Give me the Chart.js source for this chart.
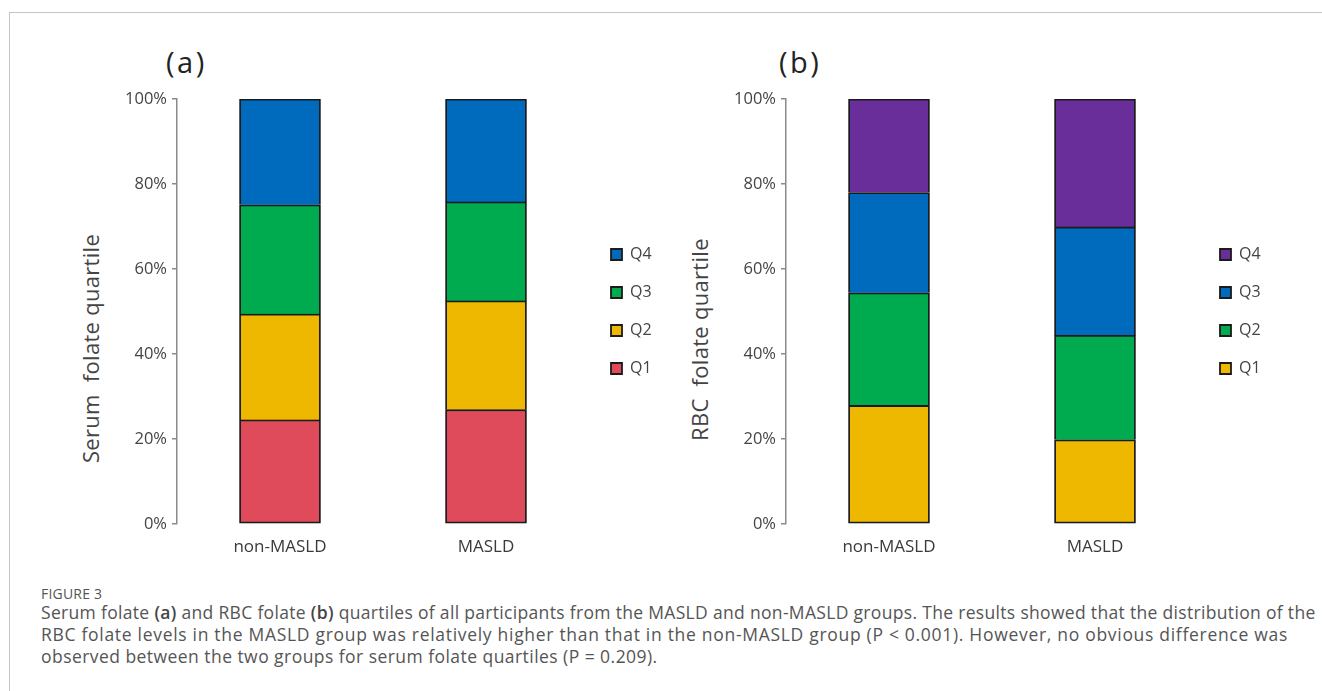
<!DOCTYPE html>
<html>
<head>
<meta charset="utf-8">
<script src="https://cdn.jsdelivr.net/npm/chart.js@4.4.1/dist/chart.umd.min.js"></script>
<style>
  html, body { margin: 0; padding: 0; background: #fff; }
  body { width: 1322px; height: 691px; position: relative; overflow: hidden; font-family: "Open Sans", "Noto Sans", sans-serif; }
  .frame { position: absolute; left: 9px; top: 12px; width: 1313px; height: 679px; border-top: 1px solid #c4c4c4; border-left: 1px solid #c4c4c4; box-sizing: border-box; }
  canvas { position: absolute; }
  #chartA { left: 100px; top: 80px; }
  #chartB { left: 709px; top: 80px; }
  .panel { position: absolute; font-size: 29px; color: #222; letter-spacing: 2.5px; line-height: 1; }
  .ytitle { position: absolute; font-size: 22px; color: #444; letter-spacing: 0.3px; white-space: pre; transform-origin: 0 0; transform: rotate(-90deg); line-height: 1; }
  .figno { position: absolute; left: 41px; top: 584px; font-size: 14px; color: #555; letter-spacing: 0.2px; }
  .caption { position: absolute; left: 41px; top: 601px; font-size: 17.5px; line-height: 22px; color: #555; white-space: nowrap; }
  .caption span { display: block; }
  .caption b { font-weight: 600; color: #444; }
  .l1 { letter-spacing: 0.32px; }
  .l2 { letter-spacing: 0.7px; }
  .l3 { letter-spacing: 0.45px; }
</style>
</head>
<body>
<div class="frame"></div>
<div class="panel" style="left:166px; top:47px;">(a)</div>
<div class="panel" style="left:779px; top:47px;">(b)</div>
<div class="ytitle" style="left:79px; top:463px;">Serum  folate quartile</div>
<div class="ytitle" style="left:688px; top:441px;">RBC  folate quartile</div>
<canvas id="chartA" width="600" height="496"></canvas>
<canvas id="chartB" width="600" height="496"></canvas>
<div class="figno">FIGURE 3</div>
<div class="caption"><span class="l1">Serum folate <b>(a)</b> and RBC folate <b>(b)</b> quartiles of all participants from the MASLD and non-MASLD groups. The results showed that the distribution of the</span><span class="l2">RBC folate levels in the MASLD group was relatively higher than that in the non-MASLD group (P &lt; 0.001). However, no obvious difference was</span><span class="l3">observed between the two groups for serum folate quartiles (P = 0.209).</span></div>
<script>
// Groups on the x axis and quartile names
const groups = ['non-MASLD', 'MASLD'];
const quartiles = ['Q1', 'Q2', 'Q3', 'Q4'];

// Serum folate quartile shares (%) per group: [non-MASLD, MASLD]
const serumQ1 = [24.5, 26.9];
const serumQ2 = [24.9, 25.6];
const serumQ3 = [25.7, 23.3];
const serumQ4 = [24.9, 24.2];

// RBC folate quartile shares (%) per group: [non-MASLD, MASLD]
const rbcQ1 = [27.9, 19.8];
const rbcQ2 = [26.5, 24.6];
const rbcQ3 = [23.6, 25.5];
const rbcQ4 = [22.0, 30.1];

// Percent axis
const yMin = 0, yMax = 100, yStep = 20;

// Fill colours, Q1 to Q4
const serumColors = ['#E04B5B', '#EFB800', '#00AA4E', '#006BBD'];
const rbcColors = ['#EFB800', '#00AA4E', '#006BBD', '#6A2E9B'];

const FONT = '"Open Sans", "Noto Sans", sans-serif';
const TEXT = '#444';
const AXIS = '#8a8a8a';

// soft glow behind the stacked columns
const barShadow = {
  id: 'barShadow',
  beforeDatasetsDraw(chart) {
    const ctx = chart.ctx;
    ctx.save();
    ctx.shadowColor = 'rgba(40,40,60,0.16)';
    ctx.shadowBlur = 6;
    ctx.shadowOffsetX = 1;
  },
  afterDatasetsDraw(chart) { chart.ctx.restore(); }
};

function buildChart(id, seriesList, colors) {
  const datasets = seriesList.map((values, i) => ({
    label: quartiles[i],
    data: values,
    backgroundColor: colors[i],
    borderColor: '#1b1b1b',
    borderWidth: 1.8,
    borderSkipped: i === 0 ? false : 'start',
    barThickness: 81
  }));
  return new Chart(document.getElementById(id), {
    type: 'bar',
    data: { labels: groups, datasets },
    plugins: [barShadow],
    options: {
      responsive: false,
      animation: false,
      devicePixelRatio: 1,
      layout: { padding: { left: 17, right: 41, top: 19, bottom: 0 } },
      plugins: {
        title: { display: false },
        tooltip: { enabled: false },
        legend: {
          position: 'right',
          fullSize: false,
          reverse: true,
          maxWidth: 70,
          labels: {
            boxWidth: 11,
            boxHeight: 11,
            padding: 22,
            color: TEXT,
            font: { family: FONT, size: 16 }
          }
        }
      },
      scales: {
        x: {
          stacked: true,
          grid: { display: false, drawTicks: false },
          border: { display: false },
          ticks: { color: '#3a3a3a', padding: 13, font: { family: FONT, size: 17 } },
          afterFit(scale) { scale.height = 52; }
        },
        y: {
          stacked: true,
          min: yMin,
          max: yMax,
          grid: { display: true, drawOnChartArea: false, drawTicks: true, tickLength: 5, color: AXIS, lineWidth: 1.5 },
          border: { display: true, color: AXIS, width: 1.5 },
          ticks: {
            stepSize: yStep,
            padding: 5,
            color: TEXT,
            font: { family: FONT, size: 16.5 },
            callback: v => v + '%'
          },
          afterFit(scale) { scale.width = 60; }
        }
      }
    }
  });
}

buildChart('chartA', [serumQ1, serumQ2, serumQ3, serumQ4], serumColors);
buildChart('chartB', [rbcQ1, rbcQ2, rbcQ3, rbcQ4], rbcColors);
</script>
</body>
</html>
